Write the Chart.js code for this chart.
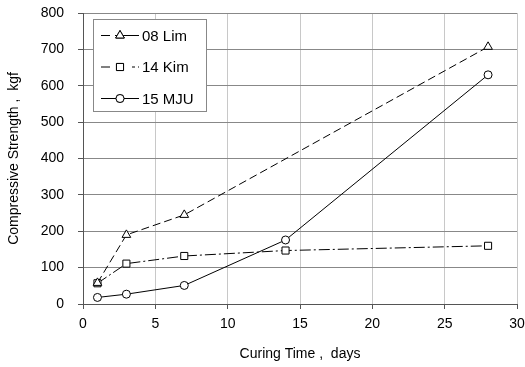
<!DOCTYPE html>
<html>
<head>
<meta charset="utf-8">
<script src="https://cdn.jsdelivr.net/npm/chart.js@4.4.0/dist/chart.umd.min.js"></script>
<style>
  html, body { margin: 0; padding: 0; background: #fff; }
  #wrap { width: 525px; height: 367px; }
</style>
</head>
<body>
<div id="wrap"><canvas id="chart" width="525" height="367"></canvas></div>
<script>
// ─── Data ──────────────────────────────────────────────
const LIM_DAYS = [1, 3, 7, 28];
const LIM_VALUES = [58, 190, 245, 707];
const KIM_DAYS = [1, 3, 7, 14, 28];
const KIM_VALUES = [57, 111, 132, 147, 160];
const MJU_DAYS = [1, 3, 7, 14, 28];
const MJU_VALUES = [18, 27, 51, 176, 630];
const SERIES_NAMES = ['08 Lim', '14 Kim', '15 MJU'];

const FONT = 'Liberation Sans, Arial, sans-serif';

const toPoints = (xs, ys) => xs.map((x, i) => ({ x, y: ys[i] }));

// ─── Legend drawn in the plot corner ───────────────────
const boxLegend = {
  id: 'boxLegend',
  afterDraw(chart) {
    const ctx = chart.ctx;
    const left = 93.5, top = 19.5, w = 113, h = 92;
    ctx.save();
    ctx.fillStyle = '#fff';
    ctx.fillRect(left, top, w, h);
    ctx.strokeStyle = '#888';
    ctx.lineWidth = 1;
    ctx.strokeRect(left, top, w, h);
    chart.data.datasets.forEach((ds, i) => {
      const y = 35.5 + i * 31.5;
      ctx.strokeStyle = '#000';
      ctx.lineWidth = 1;
      ctx.setLineDash(ds.legendDash || []);
      ctx.beginPath();
      ctx.moveTo(101, y);
      ctx.lineTo(139, y);
      ctx.stroke();
      ctx.setLineDash([]);
      const style = { pointStyle: ds.pointStyle, radius: ds.pointRadius, borderWidth: 1 };
      Chart.helpers.drawPoint(ctx, style, 120, y);
      ctx.fillStyle = '#fff';
      ctx.fill();
      Chart.helpers.drawPoint(ctx, style, 120, y);
      ctx.fillStyle = '#000';
      ctx.font = '15px ' + FONT;
      ctx.textBaseline = 'middle';
      ctx.fillText(ds.label, 142, y + 1);
    });
    ctx.restore();
  },
};

const common = {
  borderColor: '#000',
  borderWidth: 1,
  pointBackgroundColor: '#fff',
  pointBorderColor: '#000',
  pointBorderWidth: 1,
  showLine: true,
  fill: false,
  tension: 0,
};

new Chart(document.getElementById('chart'), {
  type: 'scatter',
  data: {
    datasets: [
      { ...common, label: SERIES_NAMES[0], data: toPoints(LIM_DAYS, LIM_VALUES),
        borderDash: [8, 4], legendDash: [9, 5, 24, 5],
        pointStyle: 'triangle', pointRadius: 5 },
      { ...common, label: SERIES_NAMES[1], data: toPoints(KIM_DAYS, KIM_VALUES),
        borderDash: [11, 3, 2, 3], legendDash: [9, 22, 3, 3, 2, 3],
        pointStyle: 'rect', pointRadius: 5 },
      { ...common, label: SERIES_NAMES[2], data: toPoints(MJU_DAYS, MJU_VALUES),
        pointStyle: 'circle', pointRadius: 4 },
    ],
  },
  options: {
    responsive: false,
    animation: false,
    layout: { padding: { top: 13, right: 8, left: 0, bottom: 0 } },
    plugins: {
      legend: { display: false },
      tooltip: { enabled: false },
    },
    scales: {
      x: {
        type: 'linear',
        min: 0,
        max: 30,
        ticks: { stepSize: 5, color: '#000', font: { family: FONT, size: 14 }, padding: 7 },
        grid: { color: '#c8c8c8', tickColor: '#555', tickLength: 5 },
        border: { color: '#555' },
        title: {
          display: true,
          text: 'Curing Time ,  days',
          color: '#000',
          font: { family: FONT, size: 14 },
          padding: { top: 6 },
        },
        afterFit: s => {
          s.height = 63;
          s.paddingLeft = 0;
          s.paddingRight = 0;
        },
      },
      y: {
        min: 0,
        max: 800,
        ticks: { stepSize: 100, color: '#000', font: { family: FONT, size: 14 }, padding: 14 },
        grid: { color: '#888', tickColor: '#555', tickLength: 5 },
        border: { color: '#555' },
        title: {
          display: true,
          text: 'Compressive Strength ,  kgf',
          color: '#000',
          font: { family: FONT, size: 14 },
          padding: { top: 6, bottom: 4 },
        },
        afterFit: s => {
          s.width = 83;
          s.paddingTop = 0;
          s.paddingBottom = 0;
        },
      },
    },
  },
  plugins: [boxLegend],
});
</script>
</body>
</html>
